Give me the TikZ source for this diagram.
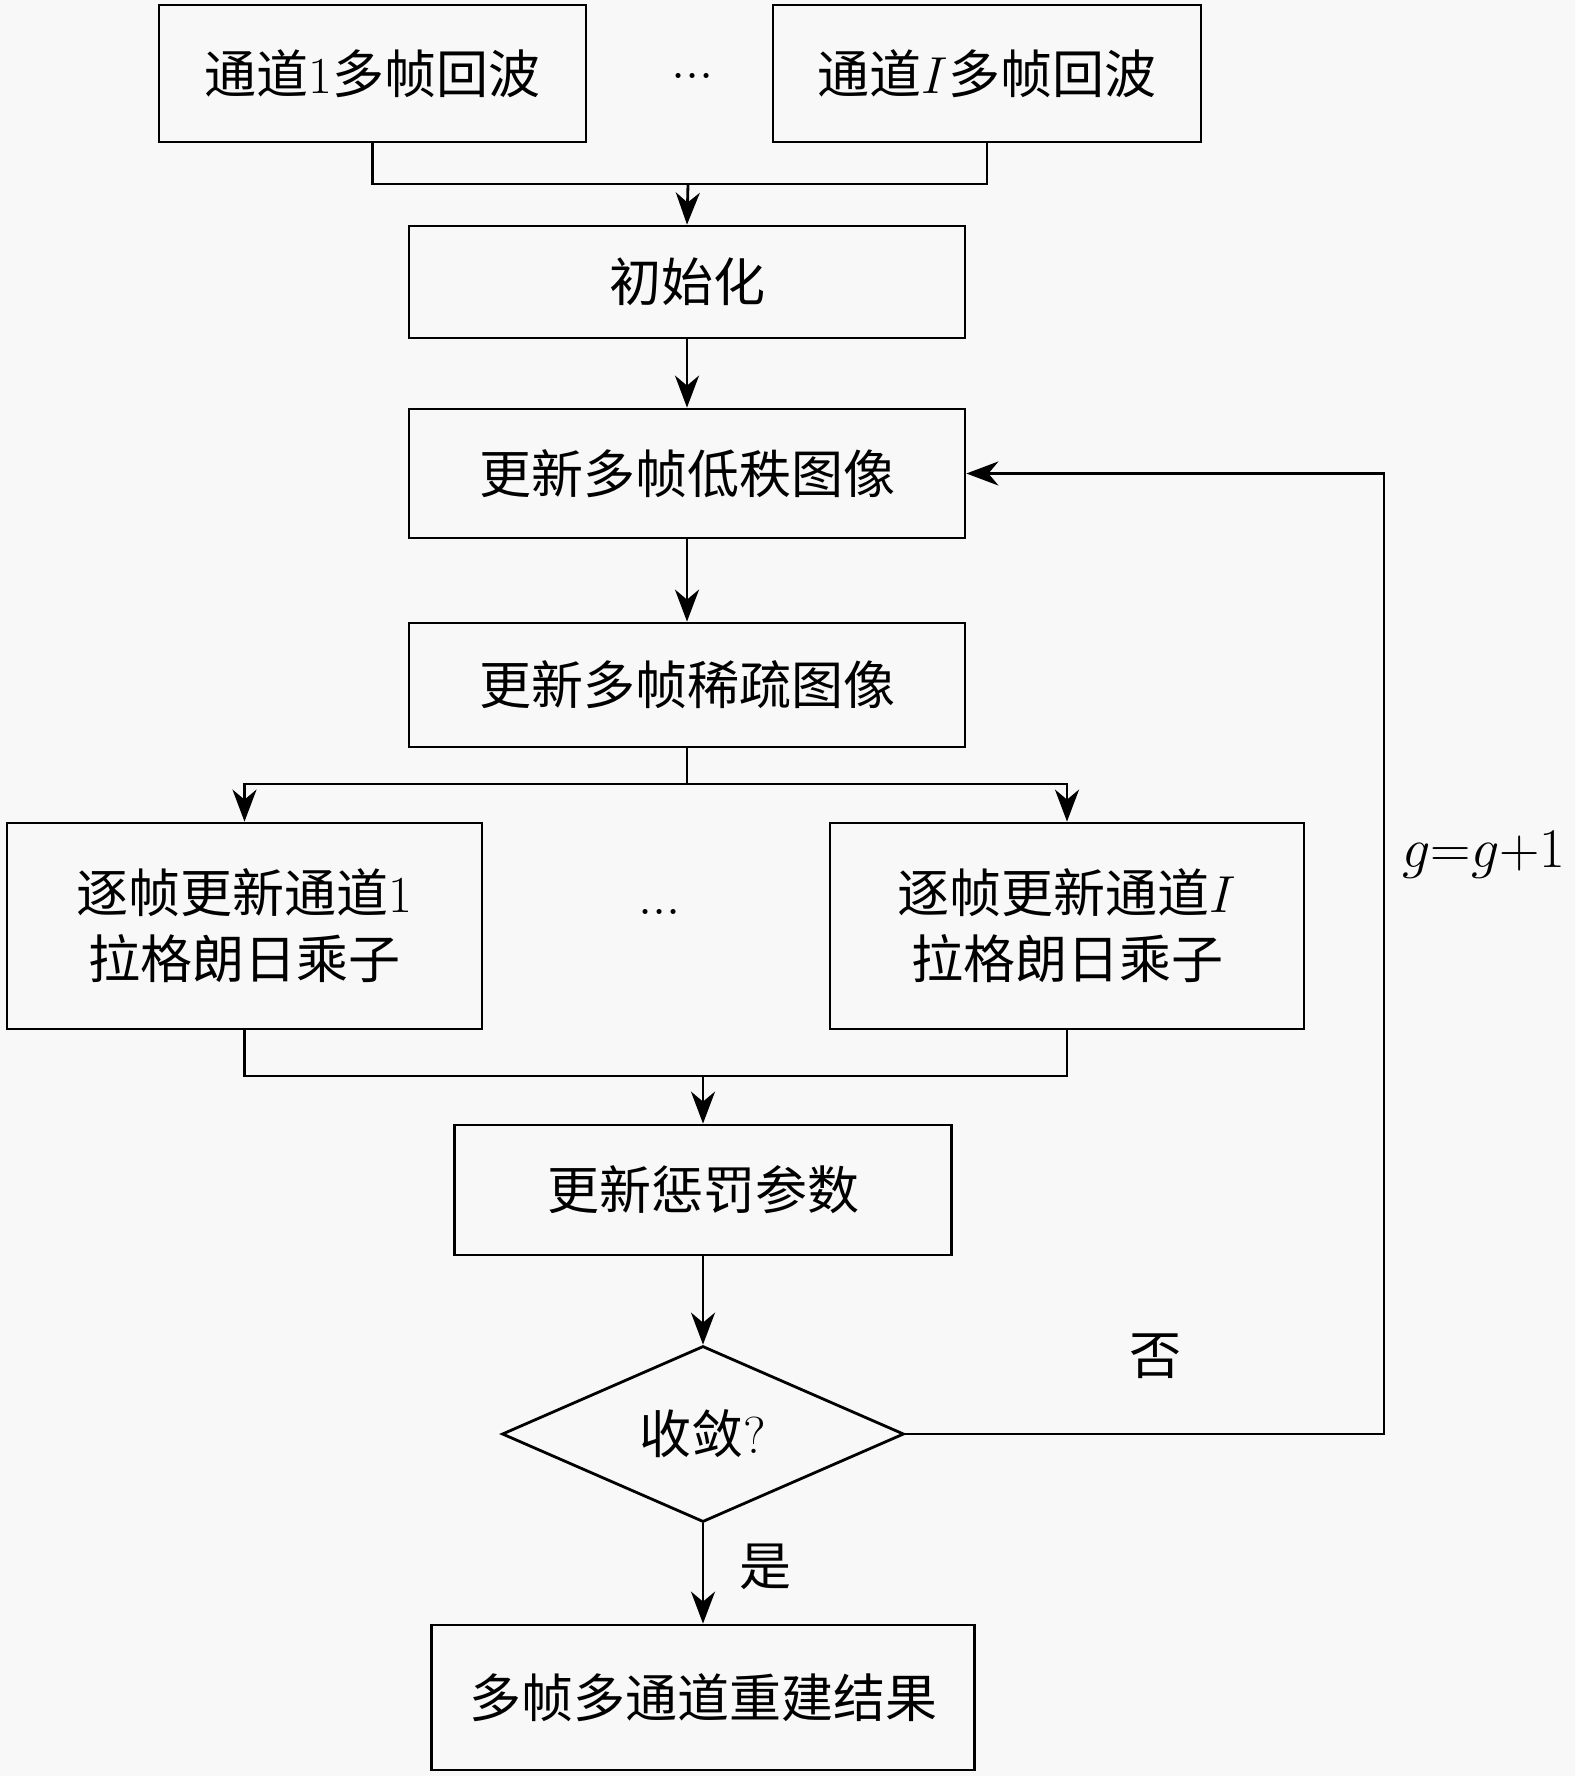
\RequirePackage{fix-cm}
\documentclass[tikz,border=0pt]{standalone}
\usepackage{fontspec}
\newfontfamily\cjk{Noto Sans CJK SC}
\usetikzlibrary{arrows.meta,shapes.geometric}
\definecolor{bgc}{RGB}{248,248,248}
\begin{document}
\begin{tikzpicture}[x=1pt,y=-1pt,
  every node/.style={font=\fontsize{52}{66}\selectfont},
  box/.style={draw,line width=2.8pt,inner sep=0pt,align=center},
  lbl/.style={inner sep=0pt},
  conn/.style={line width=2.8pt},
  arr/.style={conn,-{Stealth[length=32pt,width=24pt,inset=10pt]}}]
\fill[bgc] (0,0) rectangle (1575,1776);
\useasboundingbox (0,0) rectangle (1575,1776);
\node[box,minimum width=427pt,minimum height=137pt] (b1) at (372.5,73.5) {{\cjk 通道}$1${\cjk 多帧回波}};
\node[box,minimum width=428pt,minimum height=137pt] (bI) at (987,73.5) {{\cjk 通道}$I${\cjk 多帧回波}};
\node[lbl] (d1) at (693,76) {$...$};
\node[box,minimum width=556pt,minimum height=112pt] (init) at (687,282) {\cjk 初始化};
\node[box,minimum width=556pt,minimum height=129pt] (low) at (687,473.5) {\cjk 更新多帧低秩图像};
\node[box,minimum width=556pt,minimum height=124pt] (sparse) at (687,685) {\cjk 更新多帧稀疏图像};
\node[box,minimum width=475pt,minimum height=206pt] (L) at (244.5,926) {{\cjk 逐帧更新通道}$1$\\{\cjk 拉格朗日乘子}};
\node[box,minimum width=474pt,minimum height=206pt] (R) at (1067,926) {{\cjk 逐帧更新通道}$I$\\{\cjk 拉格朗日乘子}};
\node[lbl] (d2) at (660,912) {$...$};
\node[box,minimum width=497pt,minimum height=130pt] (pen) at (703,1190) {\cjk 更新惩罚参数};
\node[draw,line width=2.8pt,diamond,inner sep=0pt,minimum width=402pt,minimum height=176pt] (dec) at (703,1434) {{\cjk 收敛}$?$};
\node[box,minimum width=543pt,minimum height=145pt] (fin) at (703,1697.5) {\cjk 多帧多通道重建结果};
\node[lbl] (no) at (1155,1356) {\cjk 否};
\node[lbl] (yes) at (765,1567) {\cjk 是};
\node[lbl,font=\fontsize{56}{66}\selectfont] (gg) at (1484,855) {$g{=}g{+}1$};
\coordinate (m1) at (688,184);
\coordinate (s1) at (687,784);
\coordinate (m2) at (703,1076);
\coordinate (c1) at (1384,1434);
\draw[conn] (b1.south) -- (b1.south |- m1) -| (bI.south);
\draw[arr] (m1) -- (init.north);
\draw[arr] (init.south) -- (low.north);
\draw[arr] (low.south) -- (sparse.north);
\draw[conn] (sparse.south) -- (s1);
\draw[arr] (s1) -| (L.north);
\draw[arr] (s1) -| (R.north);
\draw[conn] (L.south) |- (m2);
\draw[conn] (R.south) |- (m2);
\draw[arr] (m2) -- (pen.north);
\draw[arr] (pen.south) -- (dec.north);
\draw[arr] (dec.south) -- (fin.north);
\draw[arr] (dec.east) -- (c1) |- (low.east);
\end{tikzpicture}
\end{document}
